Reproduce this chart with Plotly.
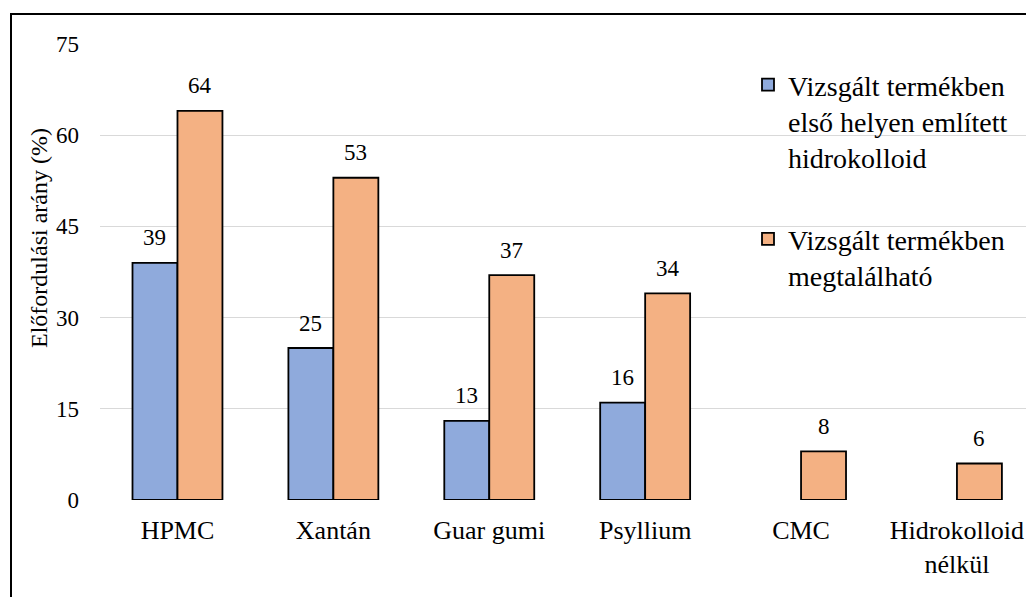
import plotly.graph_objects as go

# Hydrocolloid occurrence in the examined products (%)
categories = ["HPMC", "Xantán", "Guar gumi", "Psyllium", "CMC", "Hidrokolloid<br>nélkül"]
first_listed = [39, 25, 13, 16, None, None]
present = [64, 53, 37, 34, 8, 6]
series_names = [
    "Vizsgált termékben<br>első helyen említett<br>hidrokolloid",
    "Vizsgált termékben<br>megtalálható",
]
y_ticks = [0, 15, 30, 45, 60, 75]
y_title = "Előfordulási arány (%)"

FONT = "Liberation Serif, Times New Roman, Times, serif"
BLUE = "#8faadc"
ORANGE = "#f4b183"

W, H = 1026, 597
ML, MR, MT, MB = 100, 0, 44, 97
plot_w = W - ML - MR
plot_h = H - MT - MB

fig = go.Figure()
fig.add_trace(go.Bar(
    x=categories, y=first_listed, name=series_names[0],
    marker=dict(color=BLUE, line=dict(color="black", width=1.8)),
    legendgroup="a",
))
fig.add_trace(go.Bar(
    x=categories, y=present, name=series_names[1],
    marker=dict(color=ORANGE, line=dict(color="black", width=1.8)),
    legendgroup="b",
))

# value labels above each bar
slot_px = plot_w / 5.94
bar_px = slot_px * (1 - 0.423) / 2
annotations = []
for series, shift in ((first_listed, -bar_px / 2), (present, bar_px / 2)):
    for cat, val in zip(categories, series):
        if val is None:
            continue
        annotations.append(dict(
            x=cat, y=val, xref="x", yref="y", text=str(val), showarrow=False,
            xshift=shift, yshift=25, yanchor="middle",
            font=dict(family=FONT, size=23, color="black"),
        ))

# y axis title
annotations.append(dict(
    x=(39 - ML) / plot_w, y=(H - MB - 238) / plot_h, xref="paper", yref="paper",
    text=y_title, textangle=-90, showarrow=False, xanchor="center", yanchor="middle",
    font=dict(family=FONT, size=24, color="black"),
))

fig.update_layout(
    width=W, height=H,
    margin=dict(l=ML, r=MR, t=MT, b=MB),
    paper_bgcolor="white", plot_bgcolor="white",
    barmode="group", bargap=0.423, bargroupgap=0,
    font=dict(family=FONT, size=26, color="black"),
    annotations=annotations,
    showlegend=True,
    legend=dict(
        x=(748 - ML) / plot_w, xanchor="left",
        y=1 - (60 - MT) / plot_h, yanchor="top",
        bgcolor="rgba(0,0,0,0)", font=dict(family=FONT, size=28, color="black"),
        valign="top", tracegroupgap=42, traceorder="grouped",
    ),
    shapes=[dict(
        type="rect", xref="paper", yref="paper",
        x0=(11 - ML) / plot_w, x1=1.02,
        y0=-(120) / plot_h, y1=1 + (MT - 14) / plot_h,
        line=dict(color="black", width=2), fillcolor="rgba(0,0,0,0)", layer="below",
    )],
)
fig.update_xaxes(
    type="category", range=[-0.497, -0.497 + 5.94],
    showgrid=False, showline=False, ticks="",
    tickfont=dict(family=FONT, size=26), ticklabelstandoff=12,
)
fig.update_yaxes(
    range=[0, 75], tickvals=y_ticks, showgrid=True, gridcolor="#d9d9d9", gridwidth=1.3,
    zeroline=False, showline=False, ticks="",
    tickfont=dict(family=FONT, size=23), ticklabelstandoff=20,
)

fig.write_html("out.html")
